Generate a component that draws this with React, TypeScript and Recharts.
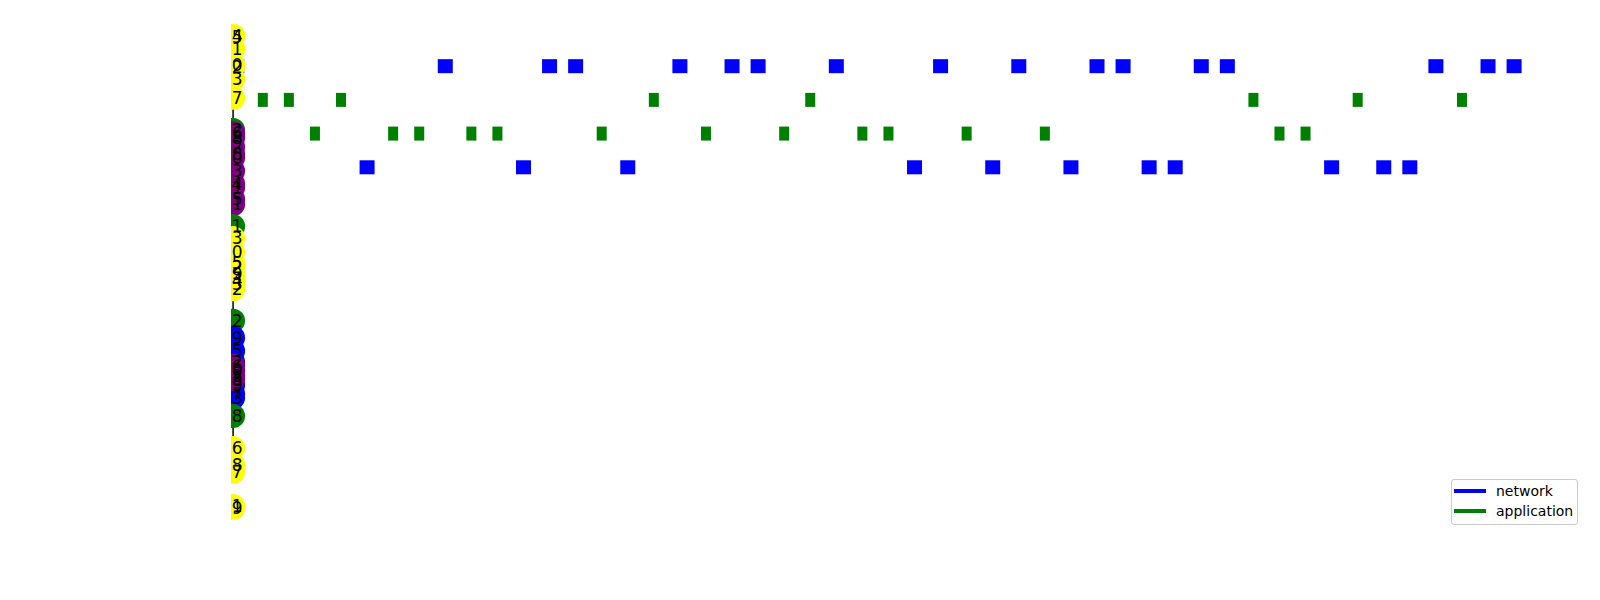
import { ScatterChart, Scatter, XAxis, YAxis, Legend } from "recharts";

// time slots of the event boxes, one list per lane
const networkLane1 = [0, 8, 12, 13, 17, 19, 20, 23, 27, 30, 33, 34, 37, 38, 46, 48, 49];
const applicationLane2 = [1, 2, 4, 16, 22, 39, 43, 47];
const applicationLane3 = [3, 6, 7, 9, 10, 14, 18, 21, 24, 25, 28, 31, 40, 41];
const networkLane4 = [5, 11, 15, 26, 29, 32, 35, 36, 42, 44, 45];

// nodes stacked on the start column (drawing order)
const nodeLevels = [
  0.1, 0.13, 0.49, 0.96, 1.02, 1.39, 1.94,
  2.89,
  2.98, 3.13, 3.39, 3.6, 3.72, 4.11, 4.49, 4.6, 4.95, 5.1,
  5.75,
  6.1, 6.52, 6.83, 6.95, 7.18, 7.33, 7.45, 7.62,
  8.55,
  9.06, 9.45, 9.78, 10.46, 10.72, 10.84,
  9.89, 10.04, 10.19, 10.28,
  11.38,
  12.33, 12.82, 13.03, 14.05, 14.11,
];
const nodeLabels = [
  "4", "5", "1", "0", "2", "3", "7",
  "2",
  "6", "8", "2", "8", "0", "3", "4", "1", "5", "1",
  "1",
  "3", "0", "5", "2", "9", "4", "3", "2",
  "2",
  "9", "5", "2", "9", "7", "3",
  "6", "0", "8", "3",
  "8",
  "6", "8", "7", "1", "9",
];
const nodeKinds = [
  "y", "y", "y", "y", "y", "y", "y",
  "g",
  "p", "p", "p", "p", "p", "p", "p", "p", "p", "p",
  "g",
  "y", "y", "y", "y", "y", "y", "y", "y",
  "g",
  "b", "b", "b", "b", "b", "b",
  "p", "p", "p", "p",
  "g",
  "y", "y", "y", "y", "y",
];

const legendNames = ["network", "application"];
const legendColors = ["#0000ff", "#008000"];

const kindColor: Record<string, string> = {
  y: "#ffff00",
  g: "#008000",
  p: "#800080",
  b: "#0000ff",
};

const NODE_X = -0.14;

const toPoints = (times: number[], lane: number) => times.map((t) => ({ x: t, y: lane }));

const networkData = [...toPoints(networkLane1, 1), ...toPoints(networkLane4, 4)];
const applicationData = [...toPoints(applicationLane2, 2), ...toPoints(applicationLane3, 3)];
const nodeData = nodeLevels.map((y, i) => ({
  x: NODE_X,
  y,
  label: nodeLabels[i],
  color: kindColor[nodeKinds[i]],
}));
const edgeData = [
  { x: NODE_X, y: nodeLevels[0] },
  { x: NODE_X, y: nodeLevels[nodeLevels.length - 3] },
];

const NetworkBox = (p: any) => <rect x={p.cx - 7.5} y={p.cy - 7} width={15} height={14} fill="#0000ff" />;
const AppBox = (p: any) => <rect x={p.cx - 5} y={p.cy - 7} width={10} height={14} fill="#008000" />;
const NodeDot = (p: any) => <circle cx={p.cx} cy={p.cy} r={12} fill={p.payload.color} />;
const NodeText = (p: any) => (
  <text x={p.cx + 4} y={p.cy} textAnchor="middle" dominantBaseline="central" fontSize={17} fill="#000">
    {p.payload.label}
  </text>
);

const LegendBox = () => (
  <div
    style={{
      position: "relative",
      width: 125,
      height: 44,
      border: "1px solid #cccccc",
      borderRadius: 3,
      background: "rgba(255,255,255,0.8)",
      fontFamily: "DejaVu Sans",
      fontSize: 14,
    }}
  >
    {legendNames.map((name, i) => (
      <div key={name} style={{ position: "absolute", left: 0, top: 1.5 + i * 20.7, height: 18, width: 125 }}>
        <div
          style={{ position: "absolute", left: 2, top: 7, width: 32, height: 4, background: legendColors[i] }}
        />
        <div style={{ position: "absolute", left: 44, top: 0, lineHeight: "18px", color: "#000" }}>{name}</div>
      </div>
    ))}
  </div>
);

export default function App() {
  return (
    <div style={{ fontFamily: "DejaVu Sans" }}>
      <ScatterChart width={1584} height={584} margin={{ top: 12, right: 7, bottom: 60, left: 223 }}>
        <XAxis type="number" dataKey="x" domain={[-0.22, 51.72]} hide allowDataOverflow />
        <YAxis type="number" dataKey="y" domain={[-0.37, 14.82]} reversed hide allowDataOverflow />
        <Scatter
          data={edgeData}
          line={{ stroke: "#000000", strokeWidth: 1.5 }}
          shape={() => <g />}
          isAnimationActive={false}
          legendType="none"
        />
        <Scatter data={networkData} shape={NetworkBox} isAnimationActive={false} />
        <Scatter data={applicationData} shape={AppBox} isAnimationActive={false} />
        <Scatter data={nodeData} shape={NodeDot} isAnimationActive={false} />
        <Scatter data={nodeData} shape={NodeText} isAnimationActive={false} />
        <Legend
          layout="vertical"
          align="center"
          verticalAlign="middle"
          content={LegendBox}
          wrapperStyle={{ left: 1443, top: 471, width: 127 }}
        />
      </ScatterChart>
    </div>
  );
}
